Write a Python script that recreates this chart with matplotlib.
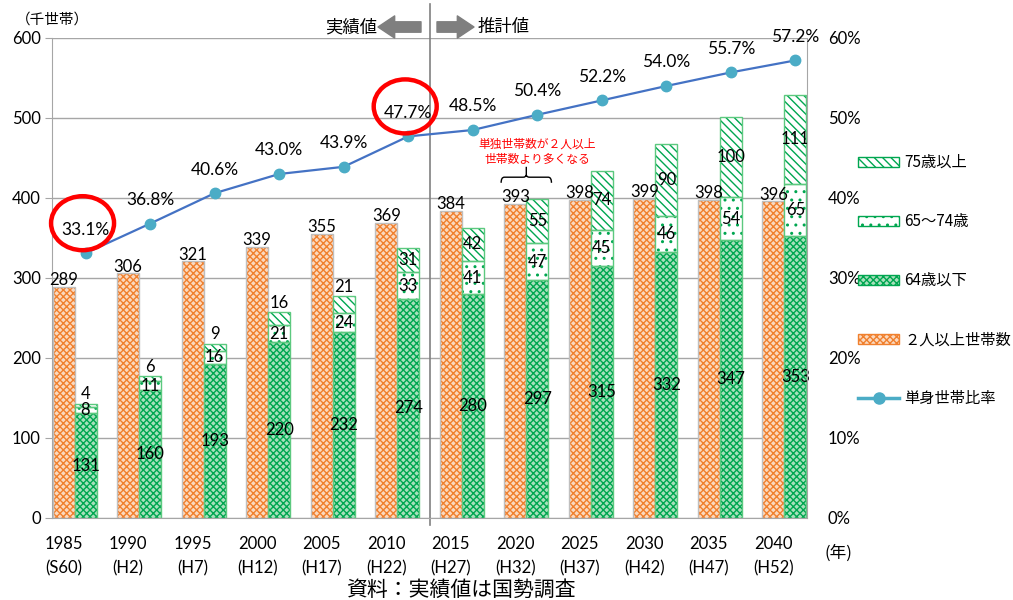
import matplotlib.pyplot as plt
import matplotlib.transforms as mtransforms
from matplotlib.patches import Ellipse, Patch, PathPatch
from matplotlib.lines import Line2D
from matplotlib.path import Path
import numpy as np

plt.rcParams['font.family'] = ['Noto Sans CJK JP', 'DejaVu Sans']
plt.rcParams['hatch.linewidth'] = 1.0

# data
years = ['1985', '1990', '1995', '2000', '2005', '2010', '2015', '2020', '2025', '2030', '2035', '2040']
eras = ['S60', 'H2', 'H7', 'H12', 'H17', 'H22', 'H27', 'H32', 'H37', 'H42', 'H47', 'H52']
multi = [289, 306, 321, 339, 355, 369, 384, 393, 398, 399, 398, 396]
under64 = [131, 160, 193, 220, 232, 274, 280, 297, 315, 332, 347, 353]
age65_74 = [8, 11, 16, 21, 24, 33, 41, 47, 45, 46, 54, 65]
over75 = [4, 6, 9, 16, 21, 31, 42, 55, 74, 90, 100, 111]
single_ratio = [33.1, 36.8, 40.6, 43.0, 43.9, 47.7, 48.5, 50.4, 52.2, 54.0, 55.7, 57.2]
highlight = ['1985', '2010']
last_actual = '2010'

ORANGE = '#F0802E'
ORANGE_FACE = '#FBD9BF'
GREEN = '#00A650'
GREEN_FACE = '#A8E0BC'
GREEN_EDGE = '#5CC97F'
GRAY = '#A6A6A6'
NUM = 'Lato'
FS = 12

fig = plt.figure(figsize=(10.13, 6), dpi=100)
ax = fig.add_axes([52 / 1013, 1 - 518 / 600, 755 / 1013, 480 / 600])
ax2 = ax.twinx()

x = np.arange(len(years))
w = 0.34
xo = x - w / 2
xg = x + w / 2

# 2人以上世帯数
ax.bar(xo, multi, w, color=ORANGE_FACE, edgecolor=ORANGE, hatch='xxxxx', lw=0)
ax.bar(xo, multi, w, fill=False, edgecolor='#BFBFBF', lw=1)

# 単身世帯 (年齢別)
b1 = np.array(under64)
b2 = b1 + np.array(age65_74)
ax.bar(xg, under64, w, color=GREEN_FACE, edgecolor=GREEN, hatch='xxxxx', lw=0)
ax.bar(xg, age65_74, w, bottom=b1, color='white', edgecolor=GREEN, hatch='..', lw=0)
ax.bar(xg, over75, w, bottom=b2, color='white', edgecolor=GREEN, hatch='\\\\\\\\', lw=0)
ax.bar(xg, under64, w, fill=False, edgecolor=GREEN_EDGE, lw=1)
ax.bar(xg, age65_74, w, bottom=b1, fill=False, edgecolor=GREEN_EDGE, lw=1)
ax.bar(xg, over75, w, bottom=b2, fill=False, edgecolor=GREEN_EDGE, lw=1)

for i in range(len(years)):
    ax.annotate(str(multi[i]), (xo[i], multi[i]), xytext=(0, -1), textcoords='offset points',
                ha='center', va='bottom', family=NUM, fontsize=FS)
    ax.text(xg[i], under64[i] / 2, str(under64[i]), ha='center', va='center', family=NUM, fontsize=FS)
    ax.text(xg[i], b1[i] + age65_74[i] / 2, str(age65_74[i]), ha='center', va='center',
            family=NUM, fontsize=FS)
    if over75[i] < 25:
        ax.annotate(str(over75[i]), (xg[i], b2[i] + over75[i]), xytext=(0, 1),
                    textcoords='offset points', ha='center', va='bottom', family=NUM, fontsize=FS)
    else:
        ax.text(xg[i], b2[i] + over75[i] / 2, str(over75[i]), ha='center', va='center',
                family=NUM, fontsize=FS)

ax.set_xlim(-0.35, len(years) - 1 + 0.35)
ax.set_ylim(0, 600)
ax.set_yticks(range(0, 601, 100))
ax.set_xticks(xo)
ax.set_xticklabels([f'{y}\n({e})' for y, e in zip(years, eras)], family=NUM, fontsize=FS,
                   linespacing=1.6)
ax.tick_params(axis='x', length=0, pad=13)
ax.tick_params(axis='y', length=5, color=GRAY, labelsize=FS, pad=3)
for lab in ax.get_yticklabels():
    lab.set_family(NUM)
ax.yaxis.grid(True, color=GRAY, lw=1)
ax.set_axisbelow(True)
for s in ['top', 'right']:
    ax.spines[s].set_visible(False)
for s in ['left', 'bottom']:
    ax.spines[s].set_color(GRAY)

# 単身世帯比率
ax2.plot(xg, single_ratio, color='#4472C4', lw=1.6, marker='o', markersize=7.5,
         markerfacecolor='#4BACC6', markeredgecolor='#4BACC6', zorder=5)
for i, v in enumerate(single_ratio):
    ax2.annotate(f'{v:.1f}%', (xg[i], v), xytext=(0, 17), textcoords='offset points',
                 ha='center', va='center', family=NUM, fontsize=12.5)
for yr in highlight:
    i = years.index(yr)
    tr = fig.dpi_scale_trans + mtransforms.ScaledTranslation(xg[i], single_ratio[i], ax2.transData)
    ax2.add_patch(Ellipse((-0.03, 0.30), 0.63, 0.54, transform=tr, fill=False, ec='red',
                          lw=3.2, clip_on=False, zorder=6))
ax2.set_ylim(0, 60)
ax2.set_yticks(range(0, 61, 10))
ax2.set_yticklabels([f'{v}%' for v in range(0, 61, 10)], family=NUM, fontsize=FS)
ax2.tick_params(axis='y', length=0, pad=15)
for s in ['top', 'left', 'bottom']:
    ax2.spines[s].set_visible(False)
ax2.spines['right'].set_color(GRAY)

# 実績値 / 推計値 の区切り
div = years.index(last_actual) + 0.5
ax.axvline(div, ymin=-0.015, ymax=1.07, color='#808080', lw=1.2, clip_on=False)
fig.text(377 / 1013, 1 - 27 / 600, '実績値', ha='right', va='center', fontsize=12.5)
fig.text(478 / 1013, 1 - 27 / 600, '推計値', ha='left', va='center', fontsize=12.5)
arrow = dict(arrowstyle='simple,head_length=1.2,head_width=1.6,tail_width=0.75',
             color='#7F7F7F', shrinkA=0, shrinkB=0, mutation_scale=10)
ax.annotate('', xy=(378, 600 - 27), xytext=(421, 600 - 27), xycoords='figure pixels',
            textcoords='figure pixels', arrowprops=arrow)
ax.annotate('', xy=(474, 600 - 27), xytext=(437, 600 - 27), xycoords='figure pixels',
            textcoords='figure pixels', arrowprops=arrow)

# 単独世帯数が2人以上世帯数より多くなる年
cross = next(i for i, v in enumerate(single_ratio) if v > 50)
ax.text(cross + 0.17, 458, '単独世帯数が２人以上\n世帯数より多くなる', color='red', fontsize=8.5,
        ha='center', va='center', linespacing=1.25)
bx0, bx1, yb, yh, yt = cross - 0.39, cross + 0.39, 419, 426, 439
verts = [(bx0, yb), (bx0, yh), (bx0 + 0.05, yh), (cross - 0.05, yh), (cross, yh), (cross, yh + 3),
         (cross, yt), (cross, yh + 3), (cross, yh), (cross + 0.05, yh), (bx1 - 0.05, yh), (bx1, yh),
         (bx1, yb)]
codes = [Path.MOVETO, Path.CURVE3, Path.CURVE3, Path.LINETO, Path.CURVE3, Path.CURVE3,
         Path.LINETO, Path.MOVETO, Path.CURVE3, Path.CURVE3, Path.LINETO, Path.CURVE3, Path.CURVE3]
ax.add_patch(PathPatch(Path(verts, codes), fill=False, ec='black', lw=1))

# labels
fig.text(52 / 1013, 1 - 20 / 600, '（千世帯）', ha='center', va='center', fontsize=10.5)
fig.text(838 / 1013, 1 - 553 / 600, '(年)', ha='center', va='center', fontsize=12)
fig.text(461 / 1013, 1 - 590 / 600, '資料：実績値は国勢調査', ha='center', va='center', fontsize=15)

handles = [
    Patch(facecolor='white', edgecolor=GREEN, hatch='\\\\\\\\'),
    Patch(facecolor='white', edgecolor=GREEN, hatch='..'),
    Patch(facecolor=GREEN_FACE, edgecolor=GREEN, hatch='xxxxx'),
    Patch(facecolor=ORANGE_FACE, edgecolor=ORANGE, hatch='xxxxx'),
    Line2D([], [], color='#4BACC6', lw=2.5, marker='o', markersize=8),
]
labels = ['75歳以上', '65〜74歳', '64歳以下', '２人以上世帯数', '単身世帯比率']
fig.legend(handles, labels, loc='upper left', bbox_to_anchor=(852 / 1013, 1 - 148 / 600),
           frameon=False, fontsize=11, handlelength=2.7, handleheight=0.6, labelspacing=2.75,
           handletextpad=0.3, borderaxespad=0)

fig.savefig('out.png', dpi=100)
